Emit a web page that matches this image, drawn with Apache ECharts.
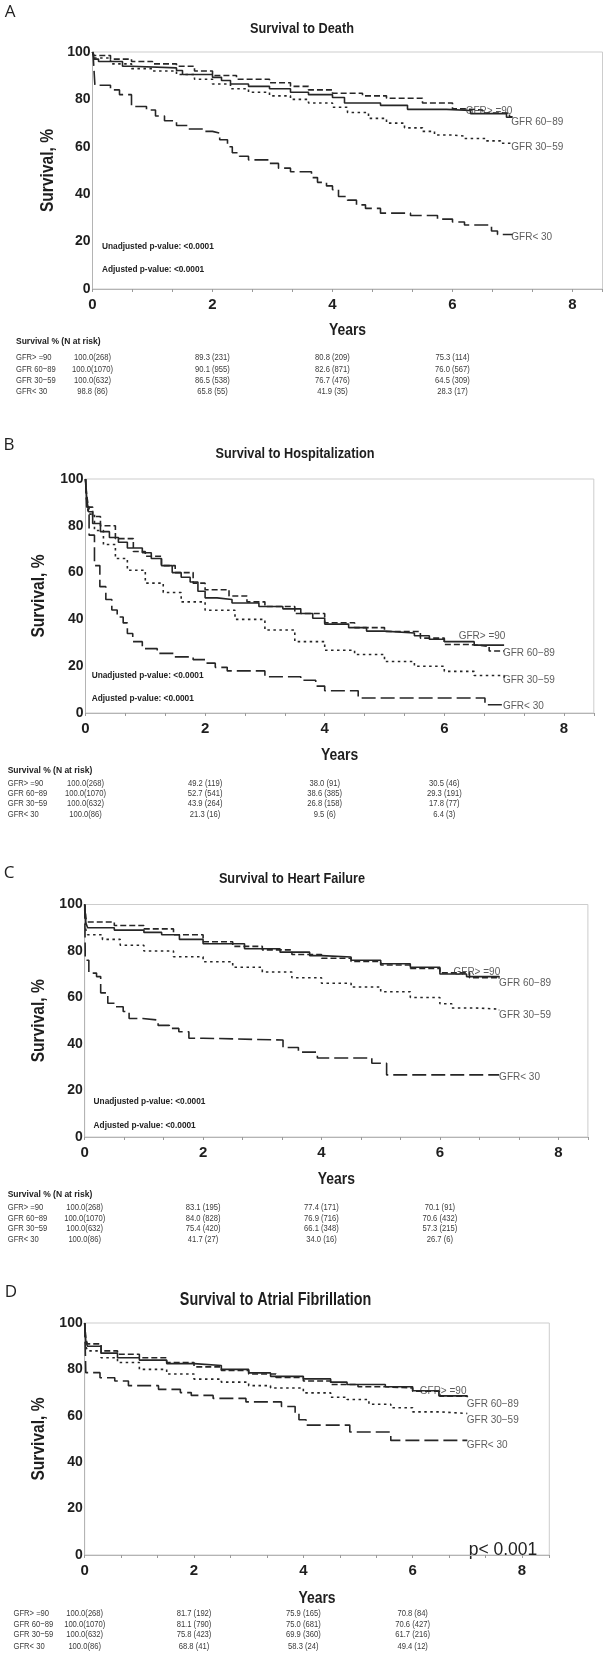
<!DOCTYPE html>
<html><head><meta charset="utf-8">
<script src="https://cdn.jsdelivr.net/npm/echarts@6/dist/echarts.min.js"></script>
<style>html,body{margin:0;padding:0;background:#fff}#c{width:605px;height:1653px}</style>
</head><body><div id="c"></div><script>
// ---------- DATA ----------
const groups = ['GFR> =90', 'GFR 60−89', 'GFR 30−59', 'GFR< 30'];
const xTicks = [0, 2, 4, 6, 8];
const yTicks = [0, 20, 40, 60, 80, 100];
const tableYears = [0, 2, 4, 6];

// Panel A: Survival to Death  [years, survival %]
const a_ge90 = [[0,100],[0.03,97],[0.1,96],[0.5,94],[0.65,93.3],[1.4,92.2],[1.5,90.5],[2.0,89.3],[2.15,88],[2.3,86.5],[2.6,85.5],[2.95,84.5],[3.3,83],[3.6,82],[4.0,80.8],[4.2,78.5],[4.8,77.5],[5.25,75.8],[5.9,75.3],[6.3,74],[6.9,72.5],[7.0,72.5]];
const a_60_89 = [[0,100],[0.03,98.5],[0.3,97],[0.65,96],[1.0,95],[1.4,94],[1.7,92],[2.0,90.1],[2.4,88.5],[2.95,87],[3.3,85.5],[3.6,84],[4.0,82.6],[4.5,81.5],[4.9,80.5],[5.5,78.5],[6.0,76.0],[6.2,75.5],[6.5,74.2],[6.95,72.7],[7.0,72.7]];
const a_30_59 = [[0,100],[0.03,97.5],[0.3,95],[0.65,93],[1.0,92],[1.4,90.5],[1.7,88.5],[2.0,86.5],[2.3,84.5],[2.6,83],[2.95,81.5],[3.3,80],[3.6,78.5],[4.0,76.7],[4.25,74.5],[4.6,72],[4.9,70],[5.2,68],[5.5,66.5],[5.7,65],[6.0,64.5],[6.2,63.5],[6.55,62.5],[6.8,61.5],[7.0,61.5]];
const a_lt30 = [[0,100],[0.01,98.8],[0.04,86],[0.3,84],[0.45,82],[0.65,77],[0.9,75.5],[1.05,73],[1.2,71],[1.4,69],[1.6,67.5],[1.85,66.5],[2.0,65.8],[2.12,63],[2.25,60],[2.33,57.5],[2.45,56],[2.6,54.5],[2.95,53],[3.1,51],[3.3,49.5],[3.65,47],[3.75,45],[3.9,43.5],[4.0,41.9],[4.1,39],[4.25,37.5],[4.4,35.5],[4.55,34],[4.8,32],[5.3,31],[5.75,29.5],[6.0,28.3],[6.2,27],[6.65,24.5],[6.75,23],[7.0,23]];

// Panel B: Survival to Hospitalization
const b_ge90 = [[0,100],[0.02,92],[0.05,86],[0.12,81],[0.25,77.5],[0.4,75],[0.55,73],[0.7,70.5],[0.95,68.5],[1.1,66],[1.27,63],[1.45,60],[1.6,58],[1.75,56],[1.88,52],[2.0,49.2],[2.2,48.5],[2.45,47],[2.9,45.5],[3.3,44.5],[3.6,42.5],[3.8,40.5],[4.0,38.0],[4.4,36.5],[4.7,35],[5.0,34.2],[5.5,33],[5.75,31.5],[6.0,30.5],[6.5,29],[7.0,29]];
const b_60_89 = [[0,100],[0.02,93],[0.05,88],[0.12,84],[0.25,80],[0.5,74.5],[0.8,69],[1.0,67],[1.27,63],[1.5,60],[1.8,55.5],[2.0,52.7],[2.4,50],[2.7,47.5],[3.0,45.5],[3.5,42.5],[4.0,38.6],[4.5,36.5],[5.0,34.8],[5.6,32],[6.0,29.3],[6.4,28.5],[6.75,26.5],[7.0,26.5]];
const b_30_59 = [[0,100],[0.02,90],[0.05,85],[0.15,78],[0.3,72],[0.5,66],[0.7,61],[1.0,55.5],[1.3,51.5],[1.6,47.5],[2.0,43.9],[2.5,40],[3.0,35.5],[3.5,30.5],[4.0,26.8],[4.5,25],[5.0,22],[5.5,20],[6.0,17.8],[6.5,16],[7.0,15]];
const b_lt30 = [[0,100],[0.02,88],[0.06,76],[0.15,63],[0.24,54],[0.34,48.5],[0.44,44],[0.53,41],[0.63,38.5],[0.7,34],[0.79,30.5],[0.95,27.5],[1.2,25.5],[1.47,24],[1.8,22.8],[2.0,21.3],[2.17,19.5],[2.37,18],[3.0,15.5],[3.6,14],[3.85,11.5],[4.0,9.5],[4.56,6.4],[6.68,3.5],[7.0,3.5]];

// Panel C: Survival to Heart Failure
const c_ge90 = [[0,100],[0.02,92],[0.05,90],[0.5,89],[1.0,88],[1.3,87],[1.6,85],[2.0,83.1],[2.7,81],[3.3,79.5],[3.8,78],[4.0,77.4],[4.5,76],[5.0,74.5],[5.5,73],[6.0,70.1],[6.45,69],[7.0,68.5]];
const c_60_89 = [[0,100],[0.02,94],[0.05,92.5],[0.5,91],[1.0,89.5],[1.5,87],[2.0,84.0],[2.5,82],[3.0,80.5],[3.5,78.5],[4.0,76.9],[4.5,75.5],[5.0,74],[5.5,72.5],[6.0,70.6],[6.5,68.5],[7.0,68]];
const c_30_59 = [[0,100],[0.02,89],[0.05,87],[0.3,85],[0.6,82.5],[1.0,80],[1.5,77.5],[2.0,75.4],[2.5,73],[3.0,71],[3.5,68.5],[4.0,66.1],[4.5,64.5],[5.0,62.5],[5.5,60],[6.0,57.3],[6.2,55.5],[6.6,55],[7.0,54.5]];
const c_lt30 = [[0,100],[0.01,76],[0.07,70.5],[0.2,69],[0.27,62],[0.39,57.5],[0.52,56],[0.65,54],[0.75,51],[0.98,50.3],[1.24,48],[1.43,46.7],[1.59,45.3],[1.76,42.5],[2.0,41.7],[3.35,38.5],[3.61,36.5],[3.93,34.0],[4.85,31.7],[5.1,26.7],[7.0,26.7]];

// Panel D: Survival to Atrial Fibrillation
const d_ge90 = [[0,100],[0.02,92],[0.05,90],[0.3,87],[0.6,85],[1.0,84],[1.5,82.5],[2.0,81.7],[2.5,80],[3.0,78.5],[3.4,77],[4.0,75.9],[4.5,74.5],[4.8,73.5],[5.5,72.5],[6.0,70.8],[6.48,68.6],[7.0,68.6]];
const d_60_89 = [[0,100],[0.02,93],[0.05,91],[0.3,88],[0.6,86.5],[1.0,85],[1.5,83],[2.0,81.1],[2.5,79.5],[3.0,78],[3.5,76.5],[4.0,75.0],[4.5,73.5],[5.0,72.5],[5.5,72],[6.0,70.6],[6.5,68.5],[7.0,68]];
const d_30_59 = [[0,100],[0.02,90],[0.05,88],[0.3,85],[0.6,83],[1.0,80],[1.5,78],[2.0,75.8],[2.5,74.5],[3.0,73],[3.4,72],[4.0,69.9],[4.5,68],[4.8,67],[5.2,65],[5.6,63.5],[6.0,61.7],[6.5,61],[7.0,61]];
const d_lt30 = [[0,100],[0.02,78.6],[0.28,76.4],[0.55,75],[0.8,73],[1.35,71.4],[1.75,70],[1.95,68.8],[2.35,67.5],[2.95,66],[3.6,64],[3.85,61],[3.92,58.3],[4.05,56],[4.85,53],[5.6,49.4],[7.0,49.4]];

// curve end-label anchors [years, survival %]
const labA = [[6.22,75.1],[6.98,70.5],[6.98,59.9],[6.98,21.9]];
const labB = [[6.24,32.6],[6.98,25.5],[6.98,14.1],[6.98,2.7]];
const labC = [[6.23,71.0],[7.0,66.0],[7.0,52.4],[7.0,25.9]];
const labD = [[6.13,70.4],[6.99,65.0],[6.99,57.9],[6.99,47.4]];

// Survival % and N at risk tables (rows = groups, cols = tableYears)
const survA = [[100.0,89.3,80.8,75.3],[100.0,90.1,82.6,76.0],[100.0,86.5,76.7,64.5],[98.8,65.8,41.9,28.3]];
const nA    = [[268,231,209,114],[1070,955,871,567],[632,538,476,309],[86,55,35,17]];
const survB = [[100.0,49.2,38.0,30.5],[100.0,52.7,38.6,29.3],[100.0,43.9,26.8,17.8],[100.0,21.3,9.5,6.4]];
const nB    = [[268,119,91,46],[1070,541,385,191],[632,264,158,77],[86,16,6,3]];
const survC = [[100.0,83.1,77.4,70.1],[100.0,84.0,76.9,70.6],[100.0,75.4,66.1,57.3],[100.0,41.7,34.0,26.7]];
const nC    = [[268,195,171,91],[1070,828,716,432],[632,420,348,215],[86,27,16,6]];
const survD = [[100.0,81.7,75.9,70.8],[100.0,81.1,75.0,70.6],[100.0,75.8,69.9,61.7],[100.0,68.8,58.3,49.4]];
const nD    = [[268,192,165,84],[1070,790,681,427],[632,423,360,216],[86,41,24,12]];

const titles = ['Survival to Death','Survival to Hospitalization','Survival to Heart Failure','Survival to Atrial Fibrillation'];
const letters = ['A','B','C','D'];
const xName = 'Years';
const yName = 'Survival, %';
const pUnadj = 'Unadjusted p-value: <0.0001';
const pAdj = 'Adjusted p-value: <0.0001';
const pD = 'p< 0.001';
const tableHeader = 'Survival % (N at risk)';

// ---------- STYLE / LAYOUT ----------
const SANS = "'Liberation Sans',Arial,sans-serif";
const COND = 0.82;   // horizontal condensing of the SAS "swiss" font look
const INK = '#1e1e1e';
const dashes = ['solid', [6,3], [2.5,3.5], [14,5]];
const layout = [
  {left:92.5, top:52,   w:510,   h:237,   titleX:302,   titleY:29,   titleSize:15.5, letterX:10, letterY:12,
   yearsY:330,  yNameX:48,   pX:102,  pY:[246.7,270],     header:true, headY:342,  rowY:[357.7,369,380,391], rowX:16},
  {left:85.5, top:479,  w:508.3, h:234,   titleX:295,   titleY:454,  titleSize:15.5, letterX:9,  letterY:445,
   yearsY:755,  yNameX:38.5, pX:91.7, pY:[676,699],       header:true, headY:771,  rowY:[783,793,803,814], rowX:7.7},
  {left:84.7, top:904.5,w:503.2, h:232.5, titleX:292,   titleY:879,  titleSize:15.5, letterX:9,  letterY:873,
   yearsY:1179, yNameX:38.5, pX:93.6, pY:[1102,1125.7],   header:true, headY:1195, rowY:[1207,1218,1228,1239], rowX:7.7},
  {left:84.7, top:1323, w:464.6, h:232,   titleX:275.5, titleY:1300, titleSize:17.5, letterX:11, letterY:1292,
   yearsY:1598, yNameX:38.5, pX:null, header:false, rowY:[1613,1624,1634,1646], rowX:13.5}
];
const curves = [[a_ge90,a_60_89,a_30_59,a_lt30],[b_ge90,b_60_89,b_30_59,b_lt30],[c_ge90,c_60_89,c_30_59,c_lt30],[d_ge90,d_60_89,d_30_59,d_lt30]];
const labs = [labA,labB,labC,labD];
const survT = [survA,survB,survC,survD];
const nT = [nA,nB,nC,nD];

const chart = echarts.init(document.getElementById('c'), null, {renderer:'canvas', width:605, height:1653});

const grid = [], xAxis = [], yAxis = [], series = [];
layout.forEach((L, i) => {
  grid.push({left:L.left, top:L.top, width:L.w, height:L.h, show:true, borderColor:'#cdcdcd', borderWidth:1,
             backgroundColor:'transparent', containLabel:false, outerBoundsMode:'none'});
  xAxis.push({type:'value', gridIndex:i, min:xTicks[0], max:8.5, interval:2,
    axisLine:{show:true, onZero:false, lineStyle:{color:'#b4b4b4', width:1}},
    axisTick:{show:true, length:3, lineStyle:{color:'#9a9a9a'}},
    minorTick:{show:true, splitNumber:3, length:3, lineStyle:{color:'#9a9a9a'}},
    splitLine:{show:false},
    axisLabel:{margin:8, showMaxLabel:false, color:INK, fontFamily:SANS, fontWeight:'bold', fontSize:15,
      formatter: v => xTicks.indexOf(v) >= 0 ? String(v) : ''}});
  yAxis.push({type:'value', gridIndex:i, min:yTicks[0], max:yTicks[yTicks.length-1], interval:20,
    axisLine:{show:true, lineStyle:{color:'#b4b4b4', width:1}},
    axisTick:{show:false}, splitLine:{show:false},
    axisLabel:{margin:2, color:INK, fontFamily:SANS, fontWeight:'bold', fontSize:14}});
  curves[i].forEach((d, k) => {
    series.push({type:'line', xAxisIndex:i, yAxisIndex:i, step:'end', data:d, showSymbol:false, symbol:'none',
      silent:true, lineStyle:{color:'#262626', width:1.6, type:dashes[k]}, z:3});
  });
  series.push({type:'scatter', xAxisIndex:i, yAxisIndex:i, symbolSize:0, silent:true, z:4,
    data: labs[i].map((p, k) => ({value:p, name:groups[k]})),
    label:{show:true, position:'right', distance:0, formatter:'{b}', color:'#333',
      fontFamily:SANS, fontSize:10}});
});

chart.setOption({animation:false, backgroundColor:'#fff', grid, xAxis, yAxis, series});

// ---------- TEXT (graphic) ----------
function fmt(v, n, col){ const s = v.toFixed(1); return (col === 0 && v >= 100) ? s + '(' + n + ')' : s + ' (' + n + ')'; }
function txt(text, x, y, st, extra){
  return Object.assign({type:'text', x:x, y:y, silent:true,
    style:Object.assign({text:text, x:0, y:0, fill:INK, fontFamily:SANS, textAlign:'left', textVerticalAlign:'middle'}, st)}, extra || {});
}
const g = [];
layout.forEach((L, i) => {
  g.push(txt(letters[i], L.letterX, L.letterY, {fill:'#222', fontFamily:"'Open Sans',sans-serif", fontSize:17, textAlign:'center'}));
  g.push(txt(titles[i], L.titleX, L.titleY, {fontWeight:'bold', fontSize:L.titleSize, textAlign:'center'}, {scaleX:COND}));
  g.push(txt(xName, L.left + 8 * (L.w / 8.5) / 2 + (L.w / 8.5) * 0.25, L.yearsY, {fontWeight:'bold', fontSize:17, textAlign:'center'}, {scaleX:COND}));
  g.push(txt(yName, L.yNameX, L.top + L.h / 2, {fontWeight:'bold', fontSize:19, textAlign:'center'}, {scaleX:COND, rotation:Math.PI / 2}));
  if (L.pX !== null) {
    [pUnadj, pAdj].forEach((t, k) => g.push(txt(t, L.pX, L.pY[k], {fill:'#222', fontWeight:'bold', fontSize:8.3})));
  } else {
    g.push(txt(pD, L.left + L.w - 12, L.top + L.h - 5, {fill:'#222', fontSize:17.5, textAlign:'right'}));
  }
  if (L.header) g.push(txt(tableHeader, L.rowX, L.headY, {fill:'#222', fontWeight:'bold', fontSize:8.5}));
  groups.forEach((gr, r) => {
    g.push(txt(gr, L.rowX, L.rowY[r], {fill:'#3a3a3a', fontSize:9.3}, {scaleX:COND}));
    tableYears.forEach((yr, c) => {
      const px = chart.convertToPixel({gridIndex:i}, [yr, 0])[0];
      g.push(txt(fmt(survT[i][r][c], nT[i][r][c], c), px, L.rowY[r], {fill:'#3a3a3a', fontSize:9.3, textAlign:'center'}, {scaleX:COND}));
    });
  });
});
chart.setOption({graphic:g});
</script></body></html>
